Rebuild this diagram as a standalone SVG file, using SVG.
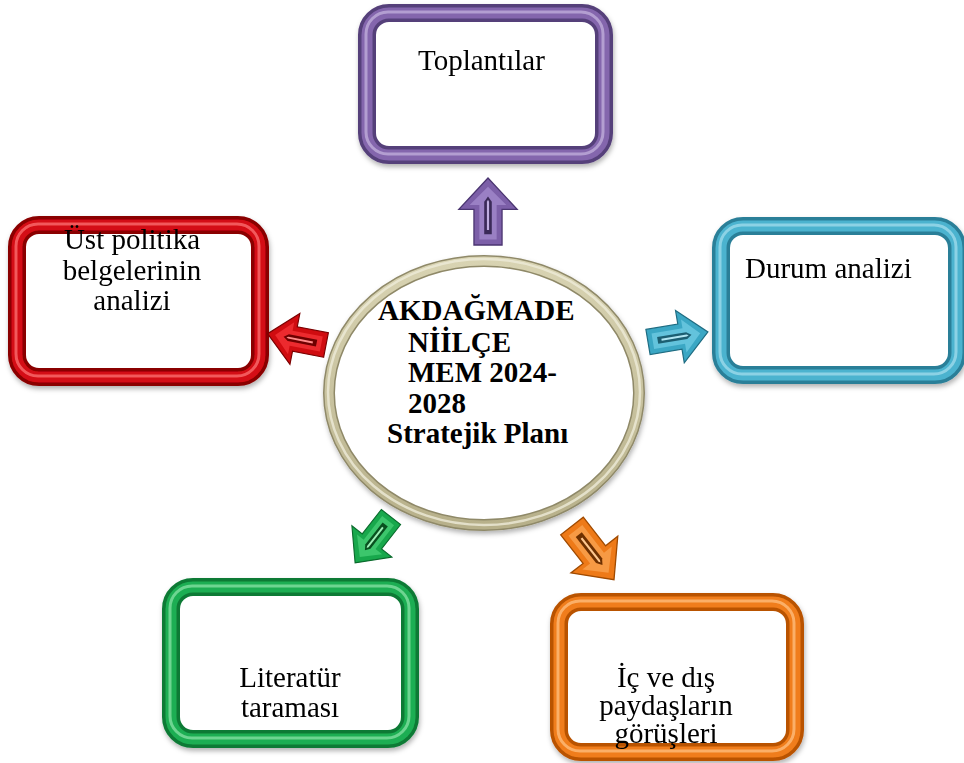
<svg xmlns="http://www.w3.org/2000/svg" xmlns:xlink="http://www.w3.org/1999/xlink" width="964" height="763" viewBox="0 0 964 763">
<style>
text{font-family:"Liberation Serif","Times New Roman",serif;font-size:29px;fill:#000}
.ctr{text-anchor:middle}
.bold{font-weight:bold}
.box .a{fill:#fff;stroke-width:18}
.box .b{fill:none;stroke-width:11}
.box .c{fill:none;stroke-width:3;opacity:.7}
#n-top .a{stroke:#553f7a}#n-top .b{stroke:#8466ad}#n-top .c{stroke:#c7b6e0}
#n-left .a{stroke:#8a0000}#n-left .b{stroke:#d40d12}#n-left .c{stroke:#ff7a7a}
#n-right .a{stroke:#2a7f98}#n-right .b{stroke:#4cb3cf}#n-right .c{stroke:#a8e0ee}
#n-bl .a{stroke:#0b7a35}#n-bl .b{stroke:#1fae52}#n-bl .c{stroke:#8ee6ad}
#n-br .a{stroke:#b95300}#n-br .b{stroke:#f07d1a}#n-br .c{stroke:#ffc48a}
.arw .o{stroke-width:1.2}
.arw .g{stroke:none}
</style>
<defs>
<filter id="sh" x="-10%" y="-10%" width="120%" height="125%">
<feDropShadow dx="1" dy="3" stdDeviation="2.5" flood-color="#000" flood-opacity="0.3"/>
</filter>
<path id="aO" d="M0,-13 L33,-13 L33,-27 L62,0 L33,27 L33,13 L0,13 Z"/>
<path id="aI" d="M5,-8 L37,-8 L37,-17 L54,0 L37,17 L37,8 L5,8 Z"/>
<path id="aG" d="M10,-3.5 L40,-3.5 L45,0 L40,3.5 L10,3.5 Z"/>
<path id="aH" d="M14,-1 L40,-1 L42,0 L40,1 L14,1 Z"/>
<linearGradient id="ring" x1="0" y1="0" x2="0" y2="1">
<stop offset="0" stop-color="#d8d3b2"/>
<stop offset="0.5" stop-color="#c9c3a0"/>
<stop offset="1" stop-color="#b7b08a"/>
</linearGradient>
</defs>

<g id="n-top" class="box" filter="url(#sh)">
<rect class="a" x="367" y="13" width="237" height="142" rx="22"/>
<rect class="b" x="367" y="13" width="237" height="142" rx="22"/>
<rect class="c" x="366" y="12" width="237" height="142" rx="22"/>
<text x="418" y="70">Toplantılar</text>
</g>

<g id="n-left" class="box" filter="url(#sh)">
<rect class="a" x="17" y="225" width="243" height="152" rx="22"/>
<rect class="b" x="17" y="225" width="243" height="152" rx="22"/>
<rect class="c" x="16" y="224" width="243" height="152" rx="22"/>
<text class="ctr" x="132" y="249">Üst politika</text>
<text class="ctr" x="132" y="280">belgelerinin</text>
<text class="ctr" x="132" y="310">analizi</text>
</g>

<g id="n-right" class="box" filter="url(#sh)">
<rect class="a" x="721" y="226" width="236" height="149" rx="22"/>
<rect class="b" x="721" y="226" width="236" height="149" rx="22"/>
<rect class="c" x="720" y="225" width="236" height="149" rx="22"/>
<text x="745" y="278">Durum analizi</text>
</g>

<g id="n-bl" class="box" filter="url(#sh)">
<rect class="a" x="171" y="587" width="239" height="152" rx="22"/>
<rect class="b" x="171" y="587" width="239" height="152" rx="22"/>
<rect class="c" x="170" y="586" width="239" height="152" rx="22"/>
<text class="ctr" x="290" y="687">Literatür</text>
<text class="ctr" x="290" y="717">taraması</text>
</g>

<g id="n-br" class="box" filter="url(#sh)">
<rect class="a" x="559" y="602" width="236" height="150" rx="22"/>
<rect class="b" x="559" y="602" width="236" height="150" rx="22"/>
<rect class="c" x="558" y="601" width="236" height="150" rx="22"/>
<text class="ctr" x="666" y="687">İç ve dış</text>
<text class="ctr" x="666" y="715">paydaşların</text>
<text class="ctr" x="666" y="743">görüşleri</text>
</g>

<g id="n-center">
<ellipse cx="484" cy="393" rx="155" ry="132" fill="#fff" stroke="#8f8968" stroke-width="12" filter="url(#sh)"/>
<ellipse cx="484" cy="393" rx="155" ry="132" fill="none" stroke="url(#ring)" stroke-width="9"/>
<ellipse cx="484" cy="392" rx="156" ry="133" fill="none" stroke="#eeebd8" stroke-width="2.5" opacity="0.8"/>
<text class="bold" x="378" y="320">AKDAĞMADE</text>
<text class="bold" x="408" y="352">NİİLÇE</text>
<text class="bold" x="408" y="382">MEM 2024-</text>
<text class="bold" x="408" y="413">2028</text>
<text class="bold" x="387" y="443">Stratejik Planı</text>
</g>

<g id="connectors">
<g class="arw" transform="translate(488,245) rotate(-90) scale(1.08)">
<use xlink:href="#aO" class="o" fill="#7c5fa8" stroke="#4a3570"/>
<use xlink:href="#aI" fill="#9a80c4"/>
<use xlink:href="#aG" class="g" fill="#3b2a58"/>
<use xlink:href="#aH" class="g" fill="#c0aee0"/>
</g>
<g class="arw" transform="translate(326,345) rotate(-169) scale(0.96)">
<use xlink:href="#aO" class="o" fill="#d00c10" stroke="#7a0000"/>
<use xlink:href="#aI" fill="#ec2a2e"/>
<use xlink:href="#aG" class="g" fill="#6e0000"/>
<use xlink:href="#aH" class="g" fill="#ff8a8a"/>
</g>
<g class="arw" transform="translate(648,342) rotate(-9.5) scale(0.98)">
<use xlink:href="#aO" class="o" fill="#3ba7c4" stroke="#1f6c82"/>
<use xlink:href="#aI" fill="#63c3dc"/>
<use xlink:href="#aG" class="g" fill="#1c5f72"/>
<use xlink:href="#aH" class="g" fill="#b2e6f2"/>
</g>
<g class="arw" transform="translate(391,517) rotate(128) scale(0.94)">
<use xlink:href="#aO" class="o" fill="#18a84c" stroke="#0a6a2c"/>
<use xlink:href="#aI" fill="#3cc66c"/>
<use xlink:href="#aG" class="g" fill="#08501f"/>
<use xlink:href="#aH" class="g" fill="#9ff0b8"/>
</g>
<g class="arw" transform="translate(572,526) rotate(52) scale(1.1)">
<use xlink:href="#aO" class="o" fill="#ee7a18" stroke="#a04a00"/>
<use xlink:href="#aI" fill="#f79a44"/>
<use xlink:href="#aG" class="g" fill="#6e3000"/>
<use xlink:href="#aH" class="g" fill="#ffc890"/>
</g>
</g>
</svg>
